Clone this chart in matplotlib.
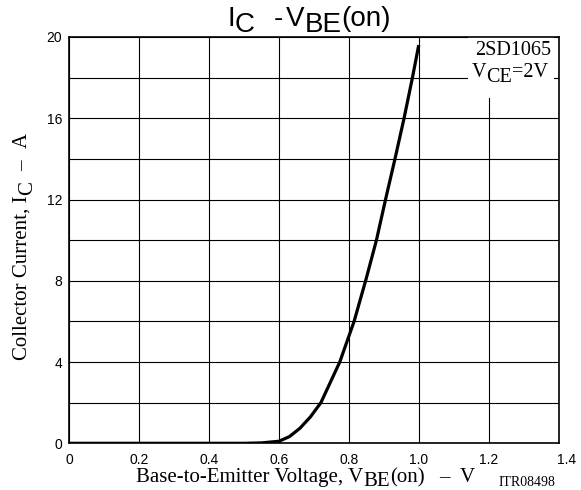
import numpy as np
import matplotlib.pyplot as plt
import matplotlib.transforms as mtransforms
from matplotlib.patches import Rectangle

# curve
vbe = [0.0, 0.5, 0.55, 0.6, 0.63, 0.66, 0.69, 0.72, 0.774, 0.815, 0.848, 0.879, 0.905, 0.932, 0.958, 0.982, 1.0]
ic = [0.0, 0.0, 0.02, 0.1, 0.33, 0.74, 1.3, 2.0, 4.0, 6.0, 8.0, 10.0, 12.0, 14.0, 16.0, 18.0, 19.6]

xticks = [0, 0.2, 0.4, 0.6, 0.8, 1.0, 1.2, 1.4]
xticklabels = ['0', '0.2', '0.4', '0.6', '0.8', '1.0', '1.2', '1.4']
yticks = [0, 4, 8, 12, 16, 20]

sans = 'Liberation Sans'
serif = 'Liberation Serif'
W, H = 581, 490

fig = plt.figure(figsize=(W / 100, H / 100), dpi=100)
ax = fig.add_axes([69.3 / W, 1 - 443.3 / H, (558.5 - 69.3) / W, (443.3 - 37) / H])

ax.plot(vbe, ic, color='black', lw=2.3, solid_capstyle='butt', zorder=3)

ax.set_xlim(0, 1.4)
ax.set_ylim(0, 20)
ax.set_xticks(xticks)
ax.set_xticklabels(xticklabels, family=sans, fontsize=10)
ax.set_yticks(yticks)
ax.set_yticklabels([str(t) for t in yticks], family=sans, fontsize=10)
ax.set_yticks(np.arange(0, 21, 2), minor=True)
ax.tick_params(which='both', length=0)
ax.tick_params(axis='x', pad=7)
ax.tick_params(axis='y', pad=5)
ax.grid(which='both', color='black', lw=0.8)
for s in ax.spines.values():
    s.set_linewidth(1.2)

# the last x label sits a little right of its tick in the original
lab = ax.get_xticklabels()[-1]
lab.set_transform(lab.get_transform() + mtransforms.ScaledTranslation(8 / 100, 0, fig.dpi_scale_trans))

renderer = fig.canvas.get_renderer()


def runs(x, y, parts, rotation=0, **kw):
    # parts: (text, baseline shift in px, gap after in px); x, y in px from top-left
    for s, dy, gap in parts:
        if rotation == 0:
            px, py = x, y + dy
        else:
            px, py = x + dy, y
        t = fig.text(px / W, 1 - py / H, s, rotation=rotation, ha='left', va='baseline',
                     rotation_mode='anchor', **kw)
        bb = t.get_window_extent(renderer)
        if rotation == 0:
            x += bb.width + gap
        else:
            y -= bb.height + gap


# title
runs(227, 26, [('I', 0, 0), ('C', 6, 19), ('-', 0, 3), ('V', 0, 0), ('BE', 6, 0), ('(on)', 0, 0)],
     family=sans, fontsize=20)

# axis labels
runs(136, 482, [('Base-to-Emitter Voltage, V', 0, 0), ('BE', 4, 0), ('(on)', 0, 15),
                ('–', 0, 10), ('V', 0, 0)], family=serif, fontsize=15)
fig.text(499 / W, 1 - 486 / H, 'ITR08498', family=serif, fontsize=10, ha='left', va='baseline')
runs(27, 360, [('Collector Current, I', 0, 0), ('C', 5, 11), ('–', 0, 12), ('A', 0, 0)],
     rotation=90, family=serif, fontsize=15)

# part number box
ax.add_patch(Rectangle((0.814, 0.85), 0.177, 0.15, transform=ax.transAxes,
                       facecolor='white', edgecolor='none', zorder=2.5))
fig.text(551 / W, 1 - 55 / H, '2SD1065', family=serif, fontsize=14.5, ha='right', va='baseline')
runs(472, 77, [('V', 0, 0), ('CE', 5, 0), ('=2V', 0, 0)], family=serif, fontsize=14.5)

plt.savefig('out.png', dpi=100)
